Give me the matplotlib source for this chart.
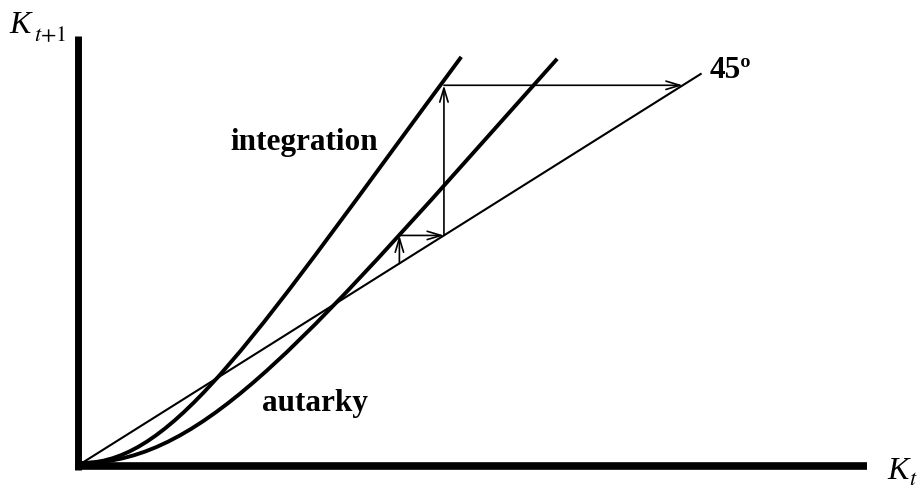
import matplotlib

matplotlib.use("Agg", force=True)
import matplotlib.pyplot as plt
from matplotlib.path import Path
from matplotlib.patches import PathPatch

# capital stock diagram: K_{t+1} against K_t, units chosen so the 45 degree line is y = x
diag_end = 10.0

# cubic Bezier control points
autarky_ctrl = [(0.0, 0.0), (2.0, 0.0), (3.68, 3.27), (7.68, 10.39)]
integration_ctrl = [(0.0, 0.0), (1.5, 0.0), (2.83, 3.345), (6.13, 10.44)]

# cobweb: start on the 45 degree line, step up to autarky, across, up to integration, across
cobweb_k = [5.13, 5.85, 9.71]

x_axis_end = 12.68
y_axis_end = 10.98

W, H, DPI = 922, 490, 100
plt.rcParams["mathtext.fontset"] = "stix"
fig = plt.figure(figsize=(W / DPI, H / DPI), dpi=DPI)
ax = fig.add_axes([0, 0, 1, 1])
ax.set_xlim(-82 / 61.87, (W - 82) / 61.87)
ax.set_ylim((463 - H) / 38.9, 463 / 38.9)
ax.axis("off")

# axes drawn as thick lines
ax.plot([-0.07, -0.07], [-0.18, y_axis_end], color="black", lw=5.0, solid_capstyle="butt")
ax.plot([-0.11, x_axis_end], [-0.077, -0.077], color="black", lw=5.5, solid_capstyle="butt")

# 45 degree line
ax.plot([0, diag_end], [0, diag_end], color="black", lw=1.5)

codes = [Path.MOVETO, Path.CURVE4, Path.CURVE4, Path.CURVE4]
for ctrl in (autarky_ctrl, integration_ctrl):
    ax.add_patch(PathPatch(Path(ctrl, codes), facecolor="none", edgecolor="black",
                           lw=2.8, capstyle="butt"))

arrow_kw = dict(arrowstyle="->,head_length=1.0,head_width=0.3", color="black",
                lw=1.2, shrinkA=0, shrinkB=0)
k0, k1, k2 = cobweb_k
steps = [((k0, k0), (k0, k1)), ((k0, k1), (k1, k1)),
         ((k1, k1), (k1, k2)), ((k1, k2), (k2, k2))]
for start, end in steps:
    ax.annotate("", xy=end, xytext=start, arrowprops=arrow_kw)


def px(x, y):
    return x / W, 1 - y / H


label_kw = dict(family="Liberation Serif", fontweight="bold", fontsize=22.5,
                ha="left", va="baseline")
fig.text(*px(230, 150), "integration", **label_kw)
fig.text(*px(262, 411), "autarky", **label_kw)
fig.text(*px(710, 78), "45º", **label_kw)

# axis titles: italic K with a separately placed subscript
k_kw = dict(family="Liberation Serif", style="italic", fontsize=23, ha="left", va="baseline")
sub_kw = dict(fontsize=16, ha="left", va="baseline")
fig.text(*px(9, 33), "K", **k_kw)
fig.text(*px(34, 41), r"$t{+}1$", **sub_kw)
fig.text(*px(887, 479), "K", **k_kw)
fig.text(*px(909, 485), r"$t$", **sub_kw)

fig.savefig("out.png", dpi=DPI)
